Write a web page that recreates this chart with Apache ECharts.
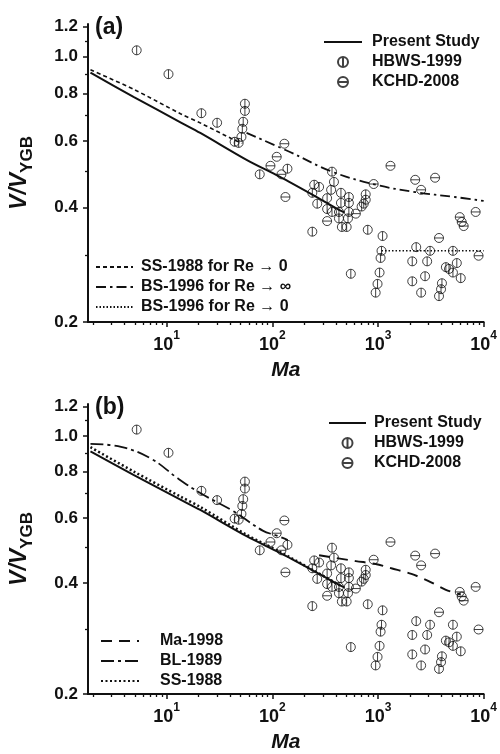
<!DOCTYPE html>
<html><head><meta charset="utf-8">
<script src="https://cdn.jsdelivr.net/npm/echarts@6/dist/echarts.min.js"></script>
<style>html,body{margin:0;padding:0;background:#fff}#c{width:500px;height:754px}</style>
</head><body><div id="c"></div>
<script>
const FONT = '"Liberation Sans", Arial, Helvetica, sans-serif';

// ---- tick values ----
const xTickValues = [10, 100, 1000, 10000];
const xMinorTicks = [2,3,4,5,6,7,8,9,20,30,40,50,60,70,80,90,200,300,400,500,600,700,800,900,2000,3000,4000,5000,6000,7000,8000,9000];
const yTickValues = [0.2, 0.4, 0.6, 0.8, 1.0, 1.2];
const yMinorTicks = [0.3, 0.5, 0.7, 0.9, 1.1];

// ---- experimental data [Ma, V/V_YGB] ----
const hbws1999 = [
  [5.2,1.04],[10.4,0.90],[21.3,0.71],[30,0.67],
  [55,0.752],[55,0.72],[53,0.674],[52,0.646],[51,0.615],[48,0.593],[44,0.597],
  [76,0.49],[139,0.507],[367,0.498],[383,0.468],[249,0.46],[277,0.454],[360,0.446],
  [239,0.438],[446,0.438],[530,0.427],[765,0.434],[765,0.42],[330,0.424],[266,0.41],
  [446,0.412],[530,0.412],[733,0.41],[700,0.403],[330,0.397],[367,0.39],[427,0.39],
  [530,0.39],[427,0.375],[520,0.375],[455,0.356],[505,0.356],[239,0.346],[800,0.35],
  [1105,0.337],[2300,0.315],[3110,0.308],[5120,0.308],[1080,0.308],[1058,0.295],
  [2110,0.289],[2920,0.289],[5570,0.286],[4390,0.279],[4700,0.276],[5120,0.27],
  [6070,0.261],[1035,0.27],[553,0.268],[2790,0.264],[2110,0.256],[990,0.252],
  [4030,0.253],[3950,0.244],[950,0.239],[2560,0.239],[3780,0.234]
];
const kchd2008 = [
  [130,0.59],[110,0.545],[96,0.516],[122,0.49],[133,0.427],[1313,0.516],[2250,0.474],
  [3470,0.48],[2560,0.446],[910,0.462],[617,0.386],[330,0.369],[3780,0.333],
  [8950,0.299],[8400,0.39],[5940,0.378],[6200,0.367],[6470,0.358]
];

// ---- model curves [Ma, V/V_YGB] ----
const presentStudy = [[1.9,0.908],[4.9,0.783],[13.5,0.672],[20.8,0.630],[57,0.535],[117,0.483],[239,0.433],[427,0.395],[480,0.389]];
const ss1988ReZero = [[1.9,0.924],[4.9,0.82],[13.5,0.708],[21.3,0.667],[44,0.603],[52,0.592]];
const bs1996ReInf = [[57,0.63],[145,0.562],[367,0.498],[950,0.46],[2250,0.44],[5330,0.427],[10000,0.417]];
const bs1996ReZero = [[1080,0.308],[10000,0.308]];
const ma1998 = [[277,0.475],[617,0.458],[950,0.45],[1340,0.438],[2070,0.423],[2980,0.405],[4390,0.383],[6070,0.372]];
const bl1989 = [[1.9,0.951],[3.7,0.934],[7.1,0.868],[12.7,0.768],[20.8,0.70],[42.5,0.626],[81,0.554],[110,0.537],[140,0.522]];
const ss1988 = [[1.9,0.932],[4.9,0.80],[13.5,0.685],[20.8,0.642],[57,0.54],[117,0.486],[239,0.434],[450,0.392]];

const HB_SYMBOL = 'path://M10,0A10,10,0,1,1,-10,0A10,10,0,1,1,10,0ZM0,-10L0,10';
const KC_SYMBOL = 'path://M10,0A10,10,0,1,1,-10,0A10,10,0,1,1,10,0ZM-10,0L10,0';

const chart = echarts.init(document.getElementById('c'), null, {renderer: 'canvas'});

function xAxes(gridIndex) {
  return [{
    type: 'log', logBase: 10, gridIndex, min: 1.8, max: 10000, position: 'bottom',
    name: 'Ma', nameLocation: 'middle', nameGap: 38,
    nameTextStyle: {fontFamily: FONT, fontSize: 21, fontWeight: 'bold', fontStyle: 'italic', color: '#111'},
    axisLine: {show: true, lineStyle: {color: '#111', width: 2}},
    axisTick: {show: true, customValues: xTickValues, length: 5, lineStyle: {color: '#111', width: 1.5}},
    axisLabel: {
      show: true, customValues: xTickValues, margin: 8,
      formatter: v => '{b|10}{s|' + Math.round(Math.log10(v)) + '}',
      rich: {
        b: {fontFamily: FONT, fontSize: 18, fontWeight: 'bold', color: '#111', lineHeight: 24, verticalAlign: 'bottom'},
        s: {fontFamily: FONT, fontSize: 12, fontWeight: 'bold', color: '#111', lineHeight: 12, verticalAlign: 'top'}
      }
    },
    splitLine: {show: false}, minorTick: {show: false}
  }, {
    type: 'log', logBase: 10, gridIndex, min: 1.8, max: 10000, position: 'bottom',
    axisLine: {show: false},
    axisTick: {show: true, customValues: xMinorTicks, length: 3, lineStyle: {color: '#111', width: 1.3}},
    axisLabel: {show: false}, splitLine: {show: false}
  }];
}
function yAxes(gridIndex) {
  return [{
    type: 'log', logBase: 10, gridIndex, min: 0.2, max: 1.22, position: 'left',
    name: '{v|V/V}{s|YGB}', nameLocation: 'middle', nameRotate: 90, nameGap: 52,
    nameTextStyle: {
      rich: {
        v: {fontFamily: FONT, fontSize: 23, fontWeight: 'bold', fontStyle: 'italic', color: '#111', lineHeight: 28, verticalAlign: 'top'},
        s: {fontFamily: FONT, fontSize: 17, fontWeight: 'bold', color: '#111', lineHeight: 28, verticalAlign: 'bottom'}
      }
    },
    axisLine: {show: true, lineStyle: {color: '#111', width: 2}},
    axisTick: {show: true, customValues: yTickValues, length: 5, lineStyle: {color: '#111', width: 1.5}},
    axisLabel: {
      show: true, customValues: yTickValues, margin: 10,
      formatter: v => Number(v).toFixed(1),
      fontFamily: FONT, fontSize: 17, fontWeight: 'bold', color: '#111'
    },
    splitLine: {show: false}
  }, {
    type: 'log', logBase: 10, gridIndex, min: 0.2, max: 1.22, position: 'left',
    axisLine: {show: false},
    axisTick: {show: true, customValues: yMinorTicks, length: 3, lineStyle: {color: '#111', width: 1.3}},
    axisLabel: {show: false}, splitLine: {show: false}
  }];
}

function lineSeries(name, data, xi, yi, type, width, smooth) {
  return {
    name, type: 'line', data, xAxisIndex: xi, yAxisIndex: yi, symbol: 'none', smooth: smooth,
    lineStyle: {color: '#111', width: width, type: type},
    itemStyle: {color: 'rgba(0,0,0,0)', borderWidth: 0},
    silent: true, animation: false, z: 2
  };
}
function scatterSeries(name, data, xi, yi, symbol) {
  return {
    name, type: 'scatter', data, xAxisIndex: xi, yAxisIndex: yi, symbol, symbolSize: 9,
    itemStyle: {color: 'rgba(0,0,0,0)', borderColor: '#111', borderWidth: 1},
    animation: false, z: 3
  };
}
const noDot = name => ({name, itemStyle: {opacity: 0}});

const legendText = {fontFamily: FONT, fontSize: 16, fontWeight: 'bold', color: '#111', lineHeight: 16};
function legend(data, left, top, itemWidth, gap) {
  return {data, orient: 'vertical', left, top, padding: 0, itemWidth, itemHeight: 10, itemGap: 4,
    textStyle: Object.assign({padding: [0, 0, 0, gap]}, legendText), selectedMode: false};
}

const option = {
  backgroundColor: '#fff',
  animation: false,
  title: [
    {text: '(a)', left: 90, top: 11, textStyle: {fontFamily: FONT, fontSize: 23, fontWeight: 'bold', color: '#111'}},
    {text: '(b)', left: 90, top: 391, textStyle: {fontFamily: FONT, fontSize: 23, fontWeight: 'bold', color: '#111'}}
  ],
  grid: [
    {left: 87, right: 14, top: 24, height: 298},
    {left: 87, right: 14, top: 404, height: 295}
  ],
  xAxis: [...xAxes(0), ...xAxes(1)],
  yAxis: [...yAxes(0), ...yAxes(1)],
  legend: [
    legend([noDot('Present Study'), 'HBWS-1999', 'KCHD-2008'], 323, 34, 38, 5),
    legend([noDot('SS-1988 for Re → 0'), noDot('BS-1996 for Re → ∞'), noDot('BS-1996 for Re → 0')], 95, 259, 37, 3),
    legend([noDot('Present Study'), 'HBWS-1999', 'KCHD-2008'], 328, 415, 37, 3),
    legend([noDot('Ma-1998'), noDot('BL-1989'), noDot('SS-1988')], 100, 633, 38, 16)
  ],
  series: [
    lineSeries('SS-1988 for Re → 0', ss1988ReZero, 0, 0, [4, 3], 1.6, 0.3),
    lineSeries('BS-1996 for Re → ∞', bs1996ReInf, 0, 0, [10, 4, 2.5, 4], 1.8, 0.4),
    lineSeries('BS-1996 for Re → 0', bs1996ReZero, 0, 0, [1.5, 2], 1.5, false),
    lineSeries('Present Study', presentStudy, 0, 0, 'solid', 2, 0.3),
    scatterSeries('HBWS-1999', hbws1999, 0, 0, HB_SYMBOL),
    scatterSeries('KCHD-2008', kchd2008, 0, 0, KC_SYMBOL),

    lineSeries('Ma-1998', ma1998, 2, 2, [11, 7], 2, 0.3),
    lineSeries('BL-1989', bl1989, 2, 2, [13, 4, 3, 4], 1.8, 0.4),
    lineSeries('SS-1988', ss1988, 2, 2, [2, 2.5], 2.5, 0.3),
    lineSeries('Present Study', presentStudy, 2, 2, 'solid', 2, 0.3),
    scatterSeries('HBWS-1999', hbws1999, 2, 2, HB_SYMBOL),
    scatterSeries('KCHD-2008', kchd2008, 2, 2, KC_SYMBOL)
  ]
};
chart.setOption(option);
</script>
</body></html>
